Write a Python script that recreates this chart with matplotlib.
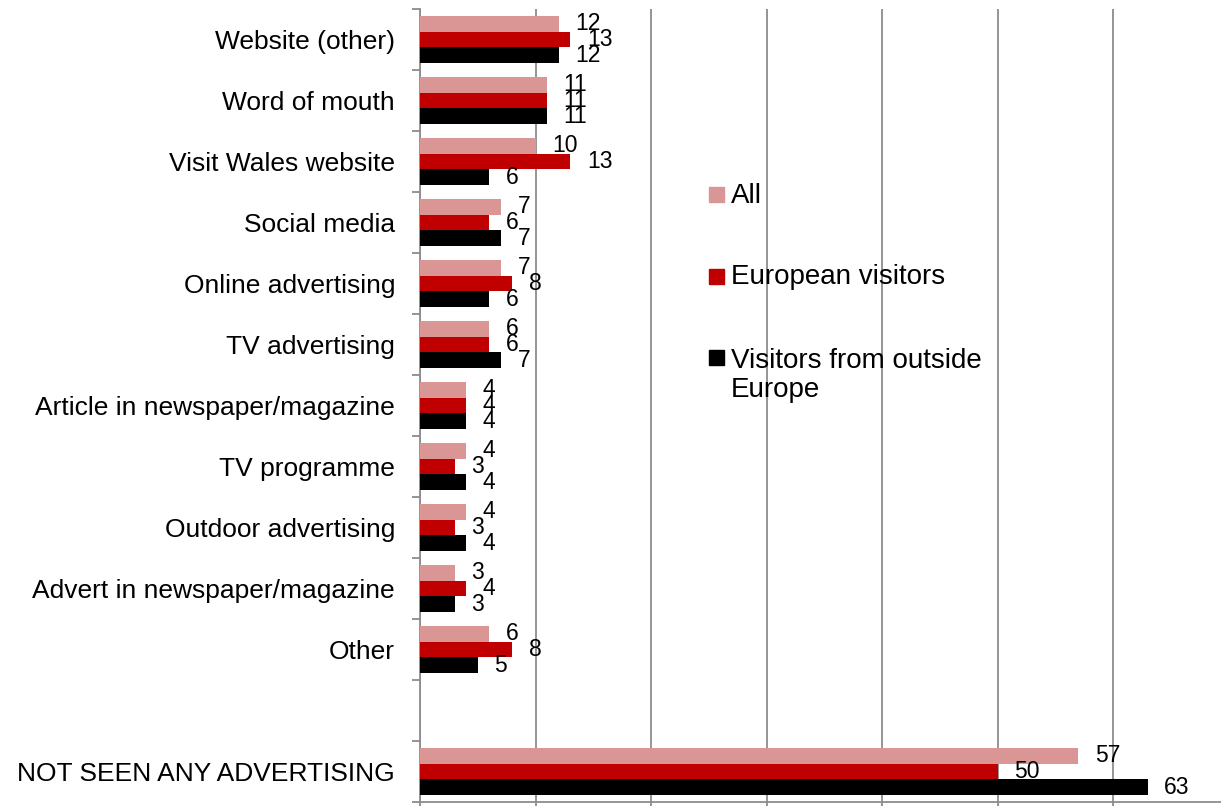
import numpy as np
import matplotlib
matplotlib.use("Agg")
import matplotlib.pyplot as plt
from matplotlib.patches import Rectangle

plt.rcParams["font.family"] = ["Liberation Sans", "DejaVu Sans"]

categories = ["Website (other)", "Word of mouth", "Visit Wales website", "Social media",
              "Online advertising", "TV advertising", "Article in newspaper/magazine",
              "TV programme", "Outdoor advertising", "Advert in newspaper/magazine",
              "Other", "", "NOT SEEN ANY ADVERTISING"]
all_visitors = [12, 11, 10, 7, 7, 6, 4, 4, 4, 3, 6, None, 57]
european = [13, 11, 13, 6, 8, 6, 4, 3, 3, 4, 8, None, 50]
outside_europe = [12, 11, 6, 7, 6, 7, 4, 4, 4, 3, 5, None, 63]

series_names = ["All", "European visitors", "Visitors from outside\nEurope"]
colors = ["#D99694", "#C00000", "#000000"]
grid_col = "#8C8C8C"

W, H = 1221, 806
fig = plt.figure(figsize=(W / 100, H / 100), dpi=100)
# axis runs 0-70, right part falls outside the picture like in the original
ax = fig.add_axes([420 / W, 4 / H, 808.5 / W, 793 / H])

y = np.arange(len(categories))
h = 0.257
for i, (vals, col) in enumerate(zip([all_visitors, european, outside_europe], colors)):
    v = np.array([np.nan if x is None else x for x in vals], dtype=float)
    bars = ax.barh(y + (i - 1) * h, v, height=h, color=col, zorder=3)
    ax.bar_label(bars, labels=["" if x is None else str(x) for x in vals],
                 padding=12, fontsize=16.5, color="black")

ax.set_xlim(0, 70)
ax.set_ylim(len(categories) - 0.5, -0.5)
ax.set_xticks(np.arange(0, 71, 10))
ax.grid(axis="x", color=grid_col, linewidth=1.3, zorder=0)
ax.tick_params(axis="x", labelbottom=False, length=6, color=grid_col, width=1.3)

ax.set_yticks(y)
ax.set_yticklabels(categories, fontsize=19)
ax.set_yticks(np.arange(-0.5, len(categories)), minor=True)
ax.tick_params(axis="y", which="major", length=0, pad=18)
ax.tick_params(axis="y", which="minor", length=6, color=grid_col, width=1.3)

for s in ["top", "right"]:
    ax.spines[s].set_visible(False)
for s in ["left", "bottom"]:
    ax.spines[s].set_color(grid_col)
    ax.spines[s].set_linewidth(1.3)

# legend drawn by hand so the square sits on the first text line
line_h = 31.7
sq_tops = [187, 269, 350]
baselines = [203.3, 284.3, 365]
for name, col, top, base in zip(series_names, colors, sq_tops, baselines):
    fig.patches.append(Rectangle((709 / W, 1 - (top + 15) / H), 15 / W, 15 / H,
                                 transform=fig.transFigure, color=col))
    last_base = base + name.count("\n") * line_h
    fig.text(731 / W, 1 - last_base / H, name, fontsize=20, va="baseline", ha="left",
             linespacing=1.14)

fig.savefig("out.png", dpi=100)
